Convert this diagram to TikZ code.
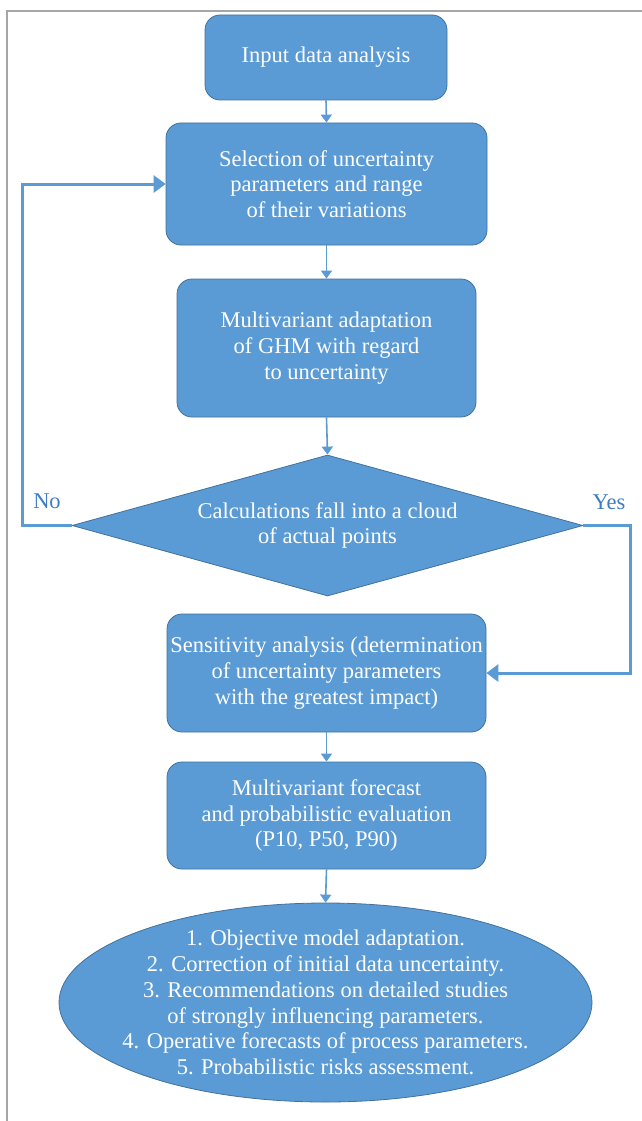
\documentclass[tikz,border=0pt]{standalone}
\usepackage{fontspec}
\setmainfont{Liberation Serif}
\usetikzlibrary{shapes.geometric,arrows.meta}
\definecolor{boxblue}{HTML}{5B9BD5}
\definecolor{edgeblue}{HTML}{41719C}
\definecolor{lblblue}{HTML}{3E7CC4}
\definecolor{frame}{HTML}{A6A6A6}
\tikzset{
  txt/.style={text=white,font=\fontsize{22.5}{25.8}\selectfont,align=center,inner sep=0pt},
  stepbox/.style={txt,rectangle,rounded corners=15pt,fill=boxblue,draw=edgeblue,line width=0.8pt},
  decision/.style={txt,diamond,aspect=3.62,fill=boxblue,draw=edgeblue,line width=0.8pt},
  result/.style={ellipse,inner sep=0pt,fill=boxblue,draw=edgeblue,line width=0.8pt},
  flow/.style={draw=boxblue,line width=1.6pt,-{Triangle[length=8pt,width=11pt]}},
  loopback/.style={draw=boxblue,line width=3pt,-{Triangle[length=12pt,width=17pt]}},
  lbl/.style={text=lblblue,font=\fontsize{22.5}{25.8}\selectfont,inner sep=0pt},
}
\begin{document}
\begin{tikzpicture}[x=1pt,y=-1pt]
\useasboundingbox (0,0) rectangle (642,1121);
\fill[white] (0,0) rectangle (642,1121);
\draw[frame,line width=1.6pt] (7,1121) -- (7,11) -- (642,11);

\node[stepbox,minimum width=242pt,minimum height=85pt] (b1) at (326,57.5) {Input data analysis};
\node[stepbox,minimum width=321pt,minimum height=122pt] (b2) at (326.5,184) {Selection of uncertainty\\parameters and range\\of their variations};
\node[stepbox,minimum width=299pt,minimum height=138pt] (b3) at (326.5,348) {Multivariant adaptation\\of GHM with regard\\to uncertainty};
\node[decision,minimum width=511pt,minimum height=141pt] (d) at (327.5,525.5) {Calculations fall into a cloud\\of actual points};
\node[stepbox,minimum width=319pt,minimum height=118pt] (b4) at (326.5,673) {Sensitivity analysis (determination\\of uncertainty parameters\\with the greatest impact)};
\node[stepbox,minimum width=319pt,minimum height=107pt] (b5) at (326.5,815.5) {Multivariant forecast\\and probabilistic evaluation\\(P10, P50, P90)};
\node[result,minimum width=533pt,minimum height=199pt] (e) at (325.5,1002.5) {};
\node[txt] (et) at (e.center) {1. Objective model adaptation.\\2. Correction of initial data uncertainty.\\3. Recommendations on detailed studies\\of strongly influencing parameters.\\4. Operative forecasts of process parameters.\\5. Probabilistic risks assessment.};

\draw[flow] (b1.south) -- (b2.north);
\draw[flow] (b2.south) -- (b3.north);
\draw[flow] (b3.south) -- (d.north);
\draw[flow] (b4.south) -- (b5.north);
\draw[flow] (b5.south) -- (e.north);

\coordinate (cl) at (22,184);
\coordinate (cr) at (630,673);
\draw[loopback] (d.west) -| (cl) -- (b2.west);
\draw[loopback] (d.east) -| (cr) -- (b4.east);

\node[lbl] (no) at (47,501) {No};
\node[lbl] (yes) at (609,502) {Yes};
\end{tikzpicture}
\end{document}
